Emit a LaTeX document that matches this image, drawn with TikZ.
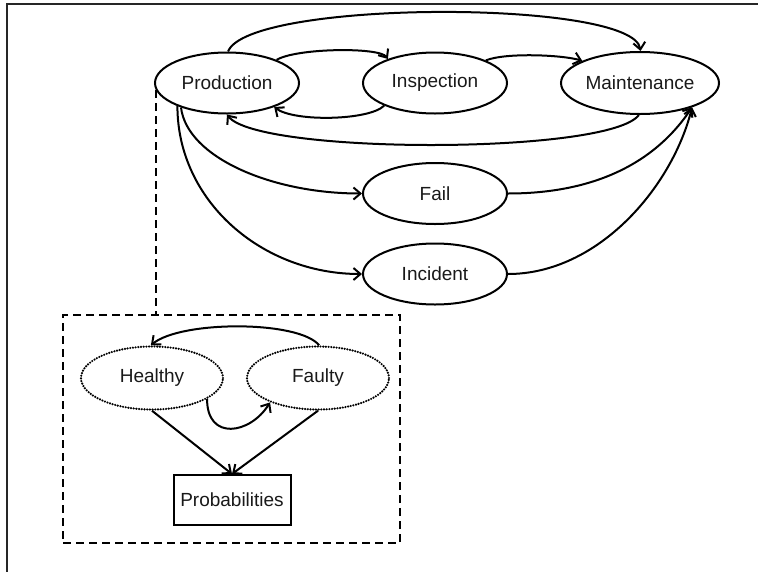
\documentclass[tikz,border=0pt]{standalone}
\usepackage{fontspec}
\setmainfont{Liberation Sans}
\usetikzlibrary{shapes.geometric,arrows.meta}
\begin{document}
\begin{tikzpicture}[x=1pt,y=-1pt,
  every node/.style={font=\fontsize{19}{22}\selectfont, text=black!90},
  state/.style={draw, ellipse, line width=2pt, inner sep=0pt,
    minimum width=144pt, minimum height=61pt},
  hidden/.style={draw, ellipse, inner sep=0pt, line width=2.4pt,
    line cap=round, dash pattern=on 0pt off 2.7pt,
    minimum width=142pt, minimum height=63pt},
  outcome/.style={draw, rectangle, line width=2pt, inner sep=0pt,
    minimum width=117pt, minimum height=50pt},
  link/.style={line width=2pt, -{Straight Barb[length=7pt,width=12pt]}},
  frame/.style={line width=2.2pt, black!85},
  group/.style={line width=2pt, dash pattern=on 8pt off 5pt}
]
\useasboundingbox (0,0) rectangle (758,571);

% open frame along the top and left
\draw[frame] (7,575) -- (7,4) -- (762,4);

% process states
\node[state] (prod) at (227,83) {Production};
\node[state] (insp) at (435,83) {Inspection};
\node[state, minimum width=158pt, minimum height=62pt] (maint) at (640,83) {Maintenance};
\node[state] (fail) at (435,193.5) {Fail};
\node[state] (inc) at (435,274) {Incident};

% hidden condition model
\node[group, draw, minimum width=337pt, minimum height=228pt, inner sep=0pt] (box) at (231.5,429) {};
\node[hidden] (healthy) at (152,378) {Healthy};
\node[hidden] (faulty) at (318,378) {Faulty};
\node[outcome] (prob) at (232,500) {Probabilities};

% transitions between the process states
\draw[link] (prod.88) .. controls +(20,-52) and +(-8,-52) .. (maint.89);
\draw[link] (prod.25) .. controls +(20,-12) and +(-8,-12) .. (insp.153);
\draw[link] (insp.24) .. controls +(20,-8) and +(-20,-6) .. (maint.159);
\draw[link] (insp.204) .. controls +(-15,15) and +(20,15) .. (prod.333);
\draw[link] (maint.268) .. controls +(-30,40) and +(30,40) .. (prod.270);
\draw[link] (prod.208) .. controls +(6,50) and +(-90,0) .. (fail.west);
\draw[link] (prod.205) .. controls +(0,95) and +(-100,0) .. (inc.west);
\draw[link] (fail.east) .. controls +(80,0) and +(-40,60) .. (maint.335);
\draw[link] (inc.east) .. controls +(90,0) and +(-20,80) .. (maint.335);

% link from production to its condition model
\draw[group] (prod.186) -- (prod.186 |- box.north);

% condition transitions and emissions
\draw[link] (faulty.88) .. controls +(-20,-25) and +(30,-25) .. (healthy.92);
\draw[link] (healthy.339) .. controls +(0,42) and +(-20,32) .. (faulty.207.5);
\draw[link] (healthy.south) -- (prob.north);
\draw[link] (faulty.south) -- (prob.north);
\end{tikzpicture}
\end{document}
